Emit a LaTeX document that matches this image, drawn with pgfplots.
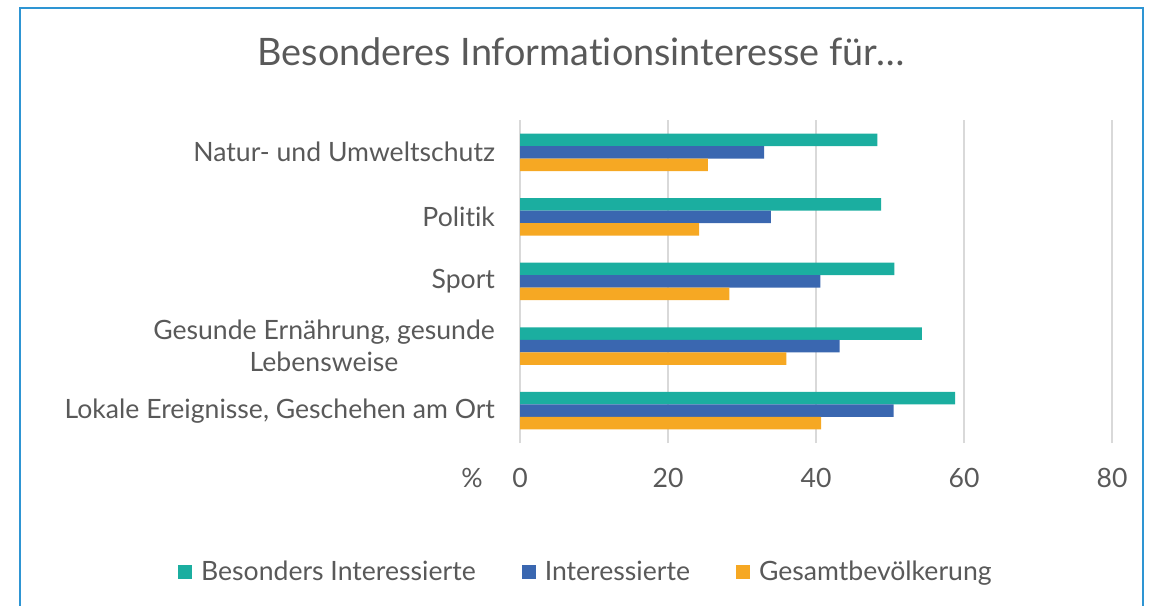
\documentclass[border=0pt]{standalone}
\usepackage{pgfplots}
\pgfplotsset{compat=1.18}
\usepackage{fontspec}
\setmainfont{Lato}[Ligatures=NoCommon]
\definecolor{cteal}{HTML}{1BAEA0}
\definecolor{cblue}{HTML}{3A67B0}
\definecolor{corange}{HTML}{F6A823}
\definecolor{cgrid}{HTML}{D9D9D9}
\definecolor{ctext}{HTML}{595959}
\definecolor{cframe}{HTML}{2E95D3}
\begin{document}
\begin{tikzpicture}
% 1 px of the reference = 0.5pt
\path[use as bounding box] (0pt,0pt) rectangle (575pt,302.5pt);
\draw[cframe,line width=1pt] (10pt,-2pt) -- (10pt,298.5pt) -- (571.5pt,298.5pt) -- (571.5pt,-2pt);
\node[ctext,font=\fontsize{18.9}{22}\selectfont] at (290.5pt,276.5pt) {Besonderes Informationsinteresse für…};
\begin{axis}[
    at={(260pt,81pt)}, anchor=south west,
    scale only axis, width=296pt, height=161.5pt,
    xbar, bar width=6.25pt,
    xmin=0, xmax=80, ymin=-0.5, ymax=4.5,
    xtick={0,20,40,60,80},
    ytick={0,1,2,3,4},
    yticklabels={{Lokale Ereignisse, Geschehen am Ort},{Gesunde Ernährung, gesunde\\Lebensweise},{Sport},{Politik},{Natur- und Umweltschutz}},
    yticklabel style={align=center,xshift=-9pt},
    xticklabel style={yshift=-9pt},
    /pgf/number format/assume math mode=true,
    tick label style={ctext,font=\fontsize{13.3}{16}\selectfont},
    major tick length=0pt,
    axis line style={draw=none},
    xmajorgrids, grid style={cgrid,line width=0.75pt},
    legend style={at={(rel axis cs:0.113,-0.40)},anchor=center,draw=none,
        legend columns=3,font=\fontsize{13.3}{16}\selectfont,text=ctext,
        /tikz/every even column/.append style={column sep=21pt}},
    legend image code/.code={\fill[#1] (0pt,-3.5pt) rectangle (7pt,3.5pt); \path (9.5pt,0pt);},
    clip=false,
]
\addplot[fill=cteal,draw=none,bar shift=6.25pt] coordinates {(58.8,0) (54.3,1) (50.6,2) (48.8,3) (48.3,4)};
\addlegendentry{Besonders Interessierte}
\addplot[fill=cblue,draw=none,bar shift=0pt] coordinates {(50.5,0) (43.2,1) (40.6,2) (33.9,3) (33.0,4)};
\addlegendentry{Interessierte}
\addplot[fill=corange,draw=none,bar shift=-6.25pt] coordinates {(40.7,0) (36.0,1) (28.3,2) (24.2,3) (25.4,4)};
\addlegendentry{Gesamtbevölkerung}
\node[ctext,font=\fontsize{13.3}{16}\selectfont] at ([xshift=-24pt,yshift=-17.5pt]axis cs:0,-0.5) {\%};
\end{axis}
\end{tikzpicture}
\end{document}
